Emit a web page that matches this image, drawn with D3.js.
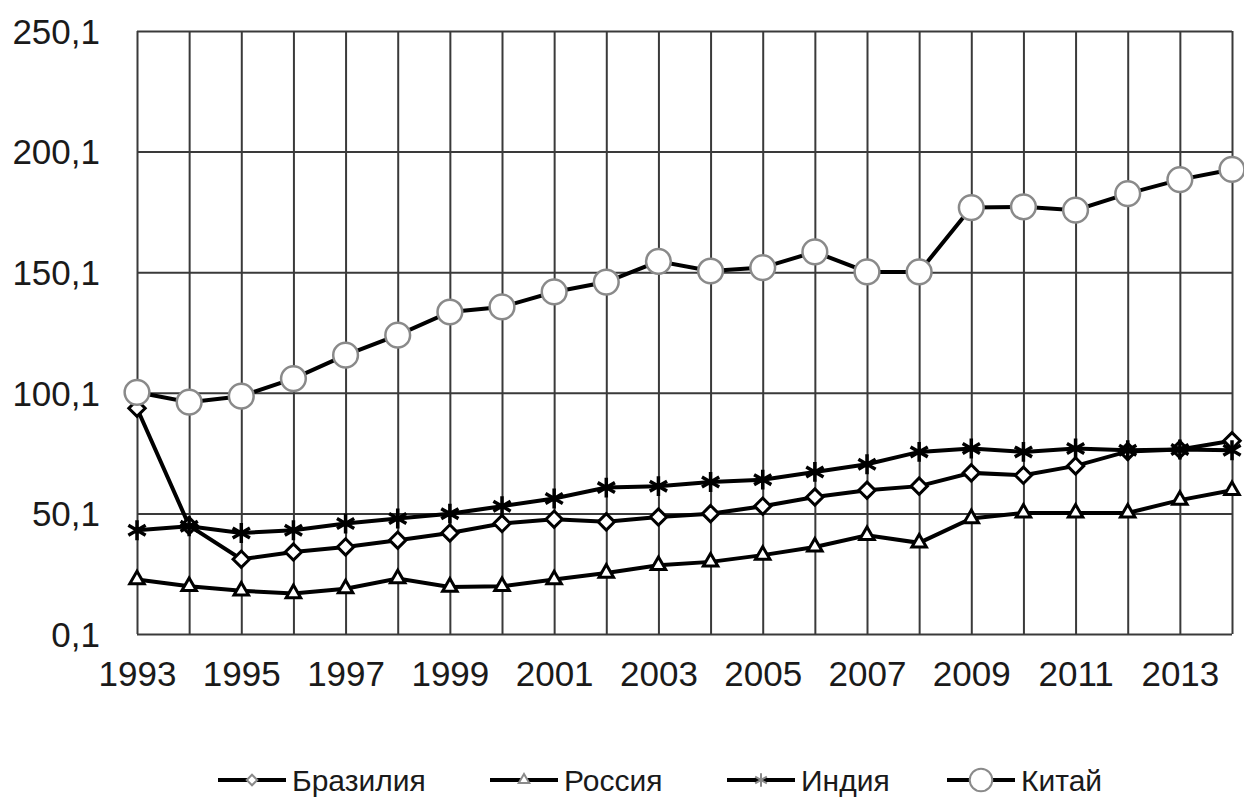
<!DOCTYPE html>
<html>
<head>
<meta charset="utf-8">
<script src="https://cdn.jsdelivr.net/npm/d3@7"></script>
<style>
  body { margin: 0; background: #fff; }
  svg text { font-family: Arial, "Liberation Sans", sans-serif; fill: #1a1a1a; }
</style>
</head>
<body>
<div id="chart"></div>
<script>
// data
const years = d3.range(1993, 2015);
const brazil = [93.7, 45.0, 31.1, 34.1, 36.2, 39.0, 42.0, 45.9, 47.7, 46.6, 48.6, 50.0, 53.1, 56.9, 59.7, 61.4, 66.9, 65.9, 69.8, 75.8, 76.6, 80.2];
const russia = [22.7, 19.9, 18.0, 16.9, 18.9, 23.1, 19.6, 19.9, 22.7, 25.4, 28.6, 30.0, 32.8, 36.2, 41.0, 37.9, 48.0, 50.3, 50.3, 50.3, 55.6, 59.7];
const india = [43.1, 44.8, 42.0, 43.1, 45.9, 48.0, 50.0, 53.1, 56.3, 60.8, 61.4, 63.1, 64.1, 67.3, 70.5, 75.6, 77.0, 75.6, 77.0, 76.3, 76.6, 76.3];
const china = [100.3, 96.2, 98.7, 106.0, 115.7, 124.0, 133.6, 135.7, 141.9, 146.0, 154.6, 150.6, 152.0, 158.5, 150.2, 150.2, 176.9, 177.2, 175.8, 182.7, 188.5, 192.7];
const yTicks = [0.1, 50.1, 100.1, 150.1, 200.1, 250.1];
const xLabels = [1993, 1995, 1997, 1999, 2001, 2003, 2005, 2007, 2009, 2011, 2013];
const names = ["Бразилия", "Россия", "Индия", "Китай"];

const W = 1244, H = 798;
const mLeft = 137, mRight = 1232, mTop = 31, mBottom = 634;

const svg = d3.select("#chart").append("svg")
  .attr("width", W).attr("height", H);

const x = d3.scaleLinear().domain([1993, 2014]).range([mLeft, mRight]);
const y = d3.scaleLinear().domain([0.1, 250.1]).range([mBottom, mTop]);

// grid
svg.append("g")
  .attr("transform", `translate(0, ${mBottom})`)
  .call(d3.axisBottom(x).tickValues(years).tickSize(-(mBottom - mTop)).tickFormat(""))
  .call(g => g.select(".domain").remove())
  .selectAll("line").attr("stroke", "#3a3a3a").attr("stroke-width", 2);

svg.append("g")
  .attr("transform", `translate(${mLeft}, 0)`)
  .call(d3.axisLeft(y).tickValues(yTicks).tickSize(-(mRight - mLeft)).tickFormat(""))
  .call(g => g.select(".domain").remove())
  .selectAll("line").attr("stroke", "#3a3a3a").attr("stroke-width", 2);

// tick labels
svg.append("g")
  .attr("transform", `translate(${mLeft}, 0)`)
  .call(d3.axisLeft(y).tickValues(yTicks).tickSize(0).tickPadding(37)
    .tickFormat(d => d3.format(".1f")(d).replace(".", ",")))
  .call(g => g.select(".domain").remove())
  .selectAll("text").attr("font-size", 35).attr("dy", "0.35em");

svg.append("g")
  .attr("transform", `translate(0, ${mBottom})`)
  .call(d3.axisBottom(x).tickValues(xLabels).tickSize(0).tickPadding(27).tickFormat(d3.format("d")))
  .call(g => g.select(".domain").remove())
  .selectAll("text").attr("font-size", 35).attr("dy", "0.71em");

const series = [
  { name: names[0], values: brazil, symbol: d3.symbolDiamond2, size: 170, stroke: "#000", sw: 3, leg: 70 },
  { name: names[1], values: russia, symbol: d3.symbolTriangle2, size: 150, stroke: "#000", sw: 3, leg: 80 },
  { name: names[2], values: india, symbol: d3.symbolAsterisk, size: 280, stroke: "#000", sw: 3.5, leg: 130 },
  { name: names[3], values: china, symbol: d3.symbolCircle, size: 480, stroke: "#8a8a8a", sw: 2.5, leg: 400 }
];

const line = d3.line().x((d, i) => x(years[i])).y(d => y(d));

series.forEach(s => {
  const g = svg.append("g");
  g.append("path")
    .attr("d", line(s.values))
    .attr("fill", "none")
    .attr("stroke", "#000")
    .attr("stroke-width", 4);
  g.selectAll("path.mark")
    .data(s.values)
    .enter()
    .append("path")
    .attr("class", "mark")
    .attr("d", d3.symbol().type(s.symbol).size(s.size))
    .attr("transform", (d, i) => `translate(${x(years[i])}, ${y(d)})`)
    .attr("fill", "#fff")
    .attr("stroke", s.stroke)
    .attr("stroke-width", s.sw);
});

// legend
const legX = [218, 490, 727, 947];
const legY = 780;
series.forEach((s, i) => {
  const g = svg.append("g").attr("transform", `translate(${legX[i]}, ${legY})`);
  g.append("line")
    .attr("x1", 0).attr("x2", 68)
    .attr("stroke", "#000").attr("stroke-width", 4);
  g.append("path")
    .attr("d", d3.symbol().type(s.symbol).size(s.leg))
    .attr("transform", "translate(34, 0)")
    .attr("fill", "#fff")
    .attr("stroke", "#8a8a8a")
    .attr("stroke-width", 2);
  g.append("text")
    .attr("x", 74)
    .attr("dy", "0.35em")
    .attr("font-size", 30)
    .text(s.name);
});
</script>
</body>
</html>
